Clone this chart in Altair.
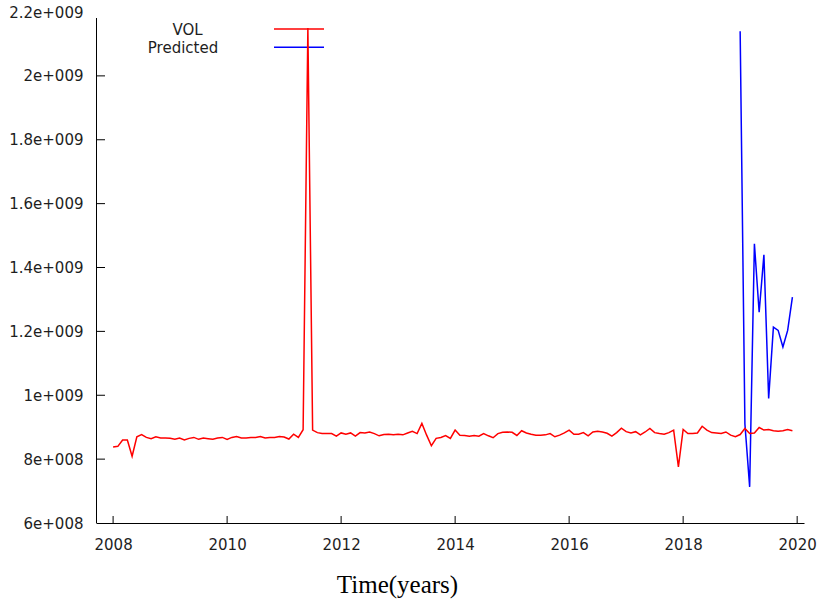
import altair as alt
import pandas as pd

# ---- data ----
START_YEAR = 2008
# Monthly VOL values, Jan 2008 .. Dec 2019, in units of 1e8
VOL_E8 = [
    8.38, 8.40, 8.60, 8.60, 8.09, 8.70, 8.77, 8.68, 8.64, 8.70, 8.66, 8.66,
    8.65, 8.62, 8.66, 8.60, 8.65, 8.68, 8.62, 8.66, 8.64, 8.62, 8.66, 8.68,
    8.62, 8.68, 8.71, 8.66, 8.66, 8.68, 8.68, 8.71, 8.66, 8.68, 8.68, 8.71,
    8.69, 8.63, 8.78, 8.68, 8.92, 21.50, 8.91, 8.83, 8.80, 8.80, 8.80, 8.72,
    8.82, 8.78, 8.82, 8.72, 8.83, 8.82, 8.85, 8.80, 8.73, 8.77, 8.78, 8.76,
    8.78, 8.76, 8.82, 8.87, 8.80, 9.12, 8.75, 8.42, 8.65, 8.68, 8.74, 8.65,
    8.91, 8.75, 8.74, 8.72, 8.74, 8.72, 8.80, 8.73, 8.67, 8.80, 8.84, 8.85,
    8.84, 8.74, 8.89, 8.82, 8.78, 8.75, 8.75, 8.76, 8.80, 8.70, 8.75, 8.82,
    8.91, 8.78, 8.78, 8.83, 8.73, 8.85, 8.87, 8.85, 8.81, 8.72, 8.83, 8.97,
    8.86, 8.82, 8.86, 8.76, 8.85, 8.96, 8.83, 8.80, 8.78, 8.83, 8.91, 7.76,
    8.93, 8.80, 8.80, 8.82, 9.03, 8.91, 8.83, 8.82, 8.80, 8.85, 8.75, 8.70,
    8.77, 8.96, 8.80, 8.82, 8.99, 8.91, 8.93, 8.89, 8.87, 8.89, 8.93, 8.89,
]
# Predicted values, Jan 2019 .. Dec 2019, in units of 1e8
PRED_START_MONTH = 132
PRED_E8 = [21.4, 9.1, 7.13, 14.74, 12.6, 14.4, 9.9, 12.13, 12.03, 11.51, 12.03, 13.07]

X_TICKS = [2008, 2010, 2012, 2014, 2016, 2018, 2020]
Y_TICKS = [6e8, 8e8, 1e9, 1.2e9, 1.4e9, 1.6e9, 1.8e9, 2e9, 2.2e9]
Y_INNER_TICKS = [8e8, 1e9, 1.2e9, 1.4e9, 1.6e9, 1.8e9, 2e9]
SERIES = ["VOL", "Predicted"]
COLORS = ["#ff0000", "#0000ff"]

X_DOMAIN = [2007.70, 2020.12]
Y_DOMAIN = [6e8, 2.2e9]

W, H = 708, 511

vol_df = pd.DataFrame({
    "t": [START_YEAR + i / 12 for i in range(len(VOL_E8))],
    "v": [v * 1e8 for v in VOL_E8],
})
pred_df = pd.DataFrame({
    "t": [START_YEAR + (PRED_START_MONTH + i) / 12 for i in range(len(PRED_E8))],
    "v": [v * 1e8 for v in PRED_E8],
})
xt_df = pd.DataFrame({"t": X_TICKS})
yt_df = pd.DataFrame({"v": Y_INNER_TICKS})
one = pd.DataFrame({"k": [0]})

LABEL_FONT = "DejaVu Sans"
LABEL_COLOR = "#1e1e1e"

x_scale = alt.Scale(domain=X_DOMAIN, nice=False, zero=False)
y_scale = alt.Scale(domain=Y_DOMAIN, nice=False, zero=False)

x_axis = alt.Axis(
    values=X_TICKS, format="d", grid=False, ticks=False, domain=True,
    domainColor="#000000", domainWidth=1,
    labelFont=LABEL_FONT, labelFontSize=15, labelColor=LABEL_COLOR,
    labelPadding=14, labelFlush=False,
    title="Time(years)", titleFont="Liberation Serif", titleFontSize=25,
    titleFontWeight="normal", titleColor="#000000",
    titleX=301, titleY=69, titleAlign="center", titleBaseline="alphabetic",
)
y_axis = alt.Axis(
    values=Y_TICKS, grid=False, ticks=False, domain=False,
    labelExpr="replace(format(datum.value, '~e'), 'e+', 'e+00')",
    labelFont=LABEL_FONT, labelFontSize=15, labelColor=LABEL_COLOR,
    labelPadding=13, title=None,
)

base_axes = alt.Chart(vol_df).mark_line(strokeWidth=0, opacity=0).encode(
    x=alt.X("t:Q", scale=x_scale, axis=x_axis),
    y=alt.Y("v:Q", scale=y_scale, axis=y_axis),
)

y_domain_line = alt.Chart(one).mark_rule(color="#000000", strokeWidth=1).encode(
    x=alt.value(0.5), y=alt.value(6), y2=alt.value(H)
)

x_ticks = alt.Chart(xt_df).mark_rule(color="#000000", strokeWidth=1).encode(
    x=alt.X("t:Q", scale=x_scale), y=alt.value(H), y2=alt.value(H - 7)
)
y_ticks = alt.Chart(yt_df).mark_rule(color="#000000", strokeWidth=1).encode(
    y=alt.Y("v:Q", scale=y_scale), x=alt.value(0), x2=alt.value(9)
)

pred_line = alt.Chart(pred_df).mark_line(color=COLORS[1], strokeWidth=1.5).encode(
    x=alt.X("t:Q", scale=x_scale), y=alt.Y("v:Q", scale=y_scale)
)
vol_line = alt.Chart(vol_df).mark_line(color=COLORS[0], strokeWidth=1.5).encode(
    x=alt.X("t:Q", scale=x_scale), y=alt.Y("v:Q", scale=y_scale)
)

leg_text_vol = alt.Chart(one).mark_text(
    font=LABEL_FONT, fontSize=15, color=LABEL_COLOR, align="center", baseline="middle"
).encode(x=alt.value(91.5), y=alt.value(18), text=alt.value(SERIES[0]))
leg_text_pred = alt.Chart(one).mark_text(
    font=LABEL_FONT, fontSize=15, color=LABEL_COLOR, align="center", baseline="middle"
).encode(x=alt.value(87), y=alt.value(36), text=alt.value(SERIES[1]))
leg_line_vol = alt.Chart(one).mark_rule(color=COLORS[0], strokeWidth=1.5).encode(
    x=alt.value(178), x2=alt.value(228), y=alt.value(17)
)
leg_line_pred = alt.Chart(one).mark_rule(color=COLORS[1], strokeWidth=1.5).encode(
    x=alt.value(178), x2=alt.value(228), y=alt.value(35.3)
)

chart = alt.layer(
    base_axes, y_domain_line, x_ticks, y_ticks,
    leg_text_vol, leg_text_pred, leg_line_vol, leg_line_pred,
    pred_line, vol_line,
).properties(
    width=W, height=H,
    padding={"left": 96, "top": 12, "right": 822 - 96 - W, "bottom": 602 - 12 - H},
    autosize=alt.AutoSizeParams(type="none"),
    background="#ffffff",
).configure_view(stroke=None)

chart.save("out.html", embed_options={"renderer": "svg", "actions": False})
